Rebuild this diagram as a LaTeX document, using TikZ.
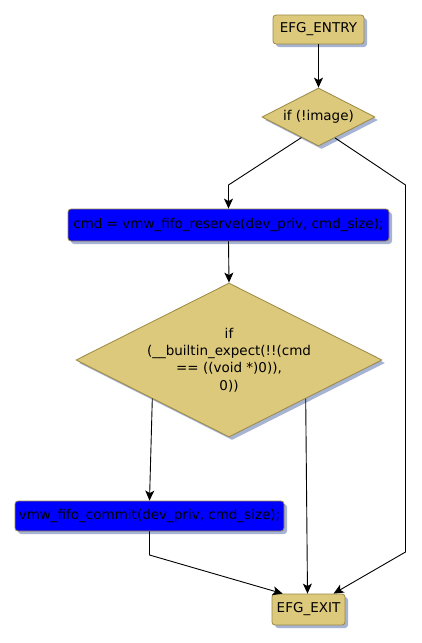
\documentclass[tikz,border=0pt]{standalone}
\usepackage{fontspec}
\setmainfont{DejaVu Sans}
\usetikzlibrary{shapes.geometric,arrows.meta,shadows,calc}
\definecolor{tanfill}{HTML}{DCC97C}
\definecolor{tanline}{HTML}{9A8846}
\definecolor{shadowc}{HTML}{A6B3D2}
\definecolor{bluefill}{HTML}{0000FF}
\begin{document}
\begin{tikzpicture}[x=1pt,y=-1pt,
  every node/.style={font=\fontsize{13.5}{17.3}\selectfont, inner sep=0pt},
  shad/.style={drop shadow={shadow xshift=3pt,shadow yshift=-3pt,fill=shadowc,opacity=1}},
  termbox/.style={shape=rectangle, rounded corners=3pt, draw=tanline, fill=tanfill, line width=0.8pt, shad},
  stmtbox/.style={shape=rectangle, rounded corners=3pt, draw=tanline, fill=bluefill, line width=0.8pt, shad},
  decision/.style={shape=diamond, draw=tanline, fill=tanfill, line width=0.8pt, shad, align=center},
  conn/.style={line width=0.9pt, -{Stealth[length=10pt,width=9pt,inset=2.5pt]}},
]
\useasboundingbox (0,0) rectangle (421,643);

\node[termbox, minimum width=91pt, minimum height=29pt] (entry) at (318.5,29.5) {EFG\_ENTRY};
\node[decision, minimum width=113pt, minimum height=58pt, aspect=2] (d1) at (318.5,117) {if (!image)};
\node[stmtbox, minimum width=321pt, minimum height=32pt] (cmd) at (228.5,225) {cmd = vmw\_fifo\_reserve(dev\_priv, cmd\_size);};
\node[decision, minimum width=306pt, minimum height=154pt, aspect=2] (d2) at (229,360)
  {if\\(\_\_builtin\_expect(!!(cmd\\== ((void *)0)),\\0))};
\node[stmtbox, minimum width=269pt, minimum height=30pt] (commit) at (149.5,516) {vmw\_fifo\_commit(dev\_priv, cmd\_size);};
\node[termbox, minimum width=73pt, minimum height=31pt] (exit) at (308.5,609.5) {EFG\_EXIT};

\coordinate (b1) at (228.5,185);
\coordinate (b2) at (405.5,185);
\coordinate (b3) at (405.5,552);
\coordinate (b4) at (149.5,555);

\draw[conn] (entry.south) -- (d1.north);
\draw[conn] ($(d1.west)!0.7!(d1.south)$) -- (b1) -- (cmd.north);
\draw[conn] ($(d1.east)!0.71!(d1.south)$) -- (b2) -- (b3) -- ($(exit.north west)!0.84!(exit.north east)$);
\draw[conn] (cmd.south) -- (d2.north);
\draw[conn] ($(d2.west)!0.5!(d2.south)$) -- (commit.north);
\draw[conn] ($(d2.east)!0.5!(d2.south)$) -- ($(exit.north)+(-1,0)$);
\draw[conn] (commit.south) -- (b4) -- ($(exit.north west)!0.15!(exit.north east)$);
\end{tikzpicture}
\end{document}
